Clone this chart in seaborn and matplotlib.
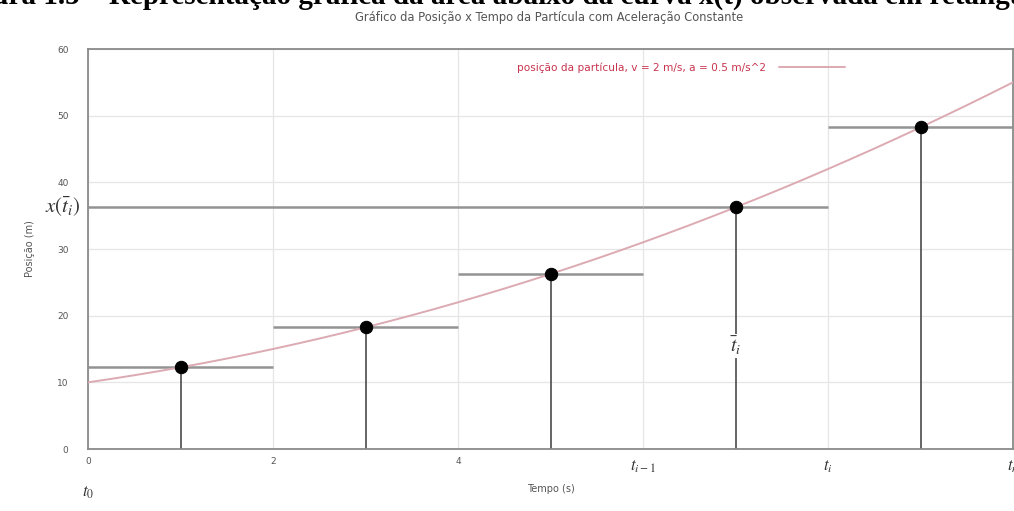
import numpy as np
import pandas as pd
import seaborn as sns
import matplotlib
matplotlib.use("Agg")
import matplotlib.pyplot as plt

# Particle parameters (x0 in m, v in m/s, a in m/s^2)
x0 = 10.0
v = 2.0
a = 0.5

# Sample times at the rectangle midpoints and the positions read there
t_mid = [1, 3, 5, 7, 9]
x_mid = [12.25, 18.25, 26.25, 36.25, 48.25]
seg_left = [0, 2, 4, 6, 8]
seg_right = [2, 4, 6, 8, 10]

x_ticks = [0, 2, 4, 6, 8, 10]
x_ticklabels = ["0", "2", "4", r"$t_{i-1}$", r"$t_i$", r"$t_n$"]
y_ticks = [0, 10, 20, 30, 40, 50, 60]

sns.set_style("white")
plt.rcParams["font.family"] = ["DejaVu Sans"]
plt.rcParams["mathtext.fontset"] = "stix"

W, H = 1014, 511
fig = plt.figure(figsize=(W / 100, H / 100), dpi=100)
ax = fig.add_axes([88 / W, (H - 449) / H, (1013 - 88) / W, (449 - 49) / H])

# position curve x(t) = x0 + v t + a t^2 / 2
t = np.linspace(0, 10, 201)
curve = pd.DataFrame({"t": t, "x": x0 + v * t + 0.5 * a * t ** 2})
sns.lineplot(data=curve, x="t", y="x", ax=ax, color="#dcaab2", lw=1.4,
             label="posição da partícula, v = 2 m/s, a = 0.5 m/s^2", zorder=3)

# rectangle tops and sides
ax.hlines(x_mid, seg_left, seg_right, color="#939393", lw=1.8, zorder=2)
ax.hlines(x_mid[3], 0, seg_left[3], color="#939393", lw=1.8, zorder=2)
ax.vlines(t_mid, 0, x_mid, color="#4a4a4a", lw=1.2, zorder=2)

pts = pd.DataFrame({"t": t_mid, "x": x_mid})
sns.scatterplot(data=pts, x="t", y="x", ax=ax, color="black", s=80,
                edgecolor="black", zorder=5, legend=False)

ax.set_xlim(0, 10)
ax.set_ylim(0, 60)
ax.set_xticks(x_ticks)
ax.set_yticks(y_ticks)
ax.set_xticklabels(x_ticklabels)
for lab in ax.get_xticklabels():
    if lab.get_text().startswith("$"):
        lab.set_fontsize(12)
        lab.set_color("#333333")
    else:
        lab.set_fontsize(6.5)
        lab.set_color("#555555")
ax.tick_params(axis="y", labelsize=6.5, labelcolor="#555555", length=3,
               color="#888888", pad=14, direction="in")
ax.tick_params(axis="x", length=3, color="#888888", pad=6, direction="in")
ax.grid(True, color="#e6e6e6", lw=0.9)
for s in ax.spines.values():
    s.set_color("#8a8a8a")
    s.set_linewidth(1.3)

ax.set_xlabel("Tempo (s)", fontsize=7, color="#555555", labelpad=6)
ax.set_ylabel("Posição (m)", fontsize=7, color="#555555", labelpad=16)

leg = ax.legend(loc="upper right", bbox_to_anchor=((845 - 88) / 925, 0.9675),
                frameon=False, fontsize=7.6, handlelength=6.3,
                handletextpad=1.2, markerfirst=False, borderpad=0,
                borderaxespad=0)
for txt in leg.get_texts():
    txt.set_color("#c8344e")

# annotations of the sample instant and its position
ax.text(-0.08, x_mid[3], r"$x(\bar{t}_i)$", fontsize=15, ha="right", va="center",
        color="#333333", clip_on=False)
ax.text(t_mid[3], 15.5, r"$\bar{t}_i$", fontsize=14, ha="center", va="center",
        color="#333333", bbox=dict(facecolor="white", edgecolor="none", pad=0.5))
ax.text(0, -6.5, r"$t_0$", fontsize=12, ha="center", va="center",
        color="#333333", clip_on=False)

fig.text(549 / W, 1 - 17 / H,
         "Gráfico da Posição x Tempo da Partícula com Aceleração Constante",
         fontsize=8.3, color="#555555", ha="center", va="center")
fig.text(-48 / W, 1 - 4 / H,
         "Figura 1.5 – Representação gráfica da área abaixo da curva x(t) "
         "observada em retângulos",
         fontsize=21, fontweight="bold", family="Liberation Serif",
         ha="left", va="baseline", color="black")

fig.savefig("out.png", dpi=100)
